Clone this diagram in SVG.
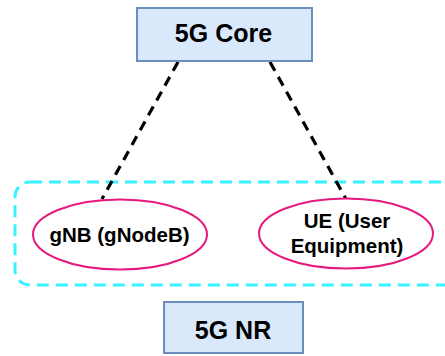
<svg xmlns="http://www.w3.org/2000/svg" width="445" height="356" viewBox="0 0 445 356">
<style>
.box{fill:#dae8fc;stroke:#6c8ebf;stroke-width:2}
.ell{fill:#ffffff;stroke:#e6197d;stroke-width:2}
.t{font-family:"Liberation Sans",Arial,sans-serif;font-weight:bold;fill:#000;text-anchor:middle}
.link{stroke:#000;stroke-width:3.2;stroke-dasharray:10,7;fill:none}
</style>
<rect width="445" height="356" fill="#ffffff"/>
<g id="group-5gnr">
<rect x="15" y="182" width="445" height="103" rx="15" ry="15" fill="none" stroke="#38f2ff" stroke-width="3" stroke-dasharray="12,7"/>
</g>
<g id="connectors">
<line class="link" x1="178" y1="62" x2="102" y2="199"/>
<line class="link" x1="270" y1="62" x2="346" y2="199"/>
</g>
<g id="core">
<rect class="box" x="137" y="8" width="175" height="53"/>
<text class="t" x="223.5" y="42" font-size="25">5G Core</text>
</g>
<g id="gnb">
<ellipse class="ell" cx="120" cy="234.5" rx="87" ry="35"/>
<text class="t" x="119.5" y="242" font-size="20.5">gNB (gNodeB)</text>
</g>
<g id="ue">
<ellipse class="ell" cx="346" cy="233.5" rx="87" ry="35"/>
<text class="t" x="347" y="228" font-size="20.5">UE (User</text>
<text class="t" x="347" y="253" font-size="20.5">Equipment)</text>
</g>
<g id="nr">
<rect class="box" x="164" y="302" width="139" height="51"/>
<text class="t" x="233" y="339" font-size="25">5G NR</text>
</g>
</svg>
